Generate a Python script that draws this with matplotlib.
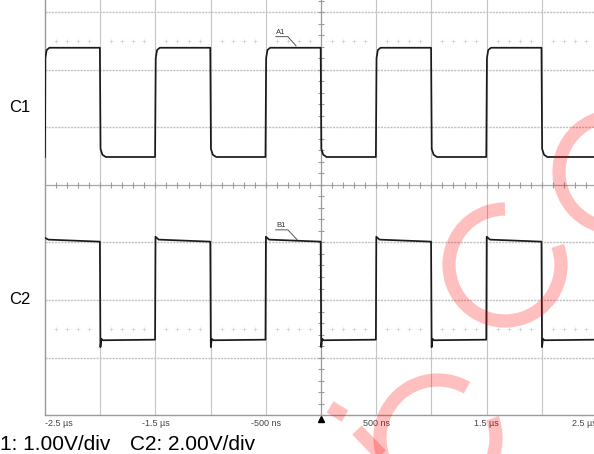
import matplotlib.pyplot as plt
import matplotlib.transforms as mtransforms
from matplotlib.patches import Arc
import numpy as np

# time in us, values in volts
c1_t = [-2.500, -2.497, -2.485, -2.460, -2.003, -1.997, -1.980, -1.950,
        -1.503, -1.497, -1.485, -1.460, -1.003, -0.997, -0.980, -0.950,
        -0.503, -0.497, -0.485, -0.460, -0.003, 0.003, 0.020, 0.050,
        0.497, 0.503, 0.515, 0.540, 0.997, 1.003, 1.020, 1.050,
        1.497, 1.503, 1.515, 1.540, 1.997, 2.003, 2.020, 2.050, 2.500]
c1_v = [0.00, 1.72, 1.86, 1.90, 1.90, 0.14, 0.04, 0.00,
        0.00, 1.72, 1.86, 1.90, 1.90, 0.14, 0.04, 0.00,
        0.00, 1.72, 1.86, 1.90, 1.90, 0.14, 0.04, 0.00,
        0.00, 1.72, 1.86, 1.90, 1.90, 0.14, 0.04, 0.00,
        0.00, 1.72, 1.86, 1.90, 1.90, 0.14, 0.04, 0.00, 0.00]

c2_t = [-2.500, -2.470, -2.003, -1.998, -1.990, -1.975,
        -1.503, -1.499, -1.470, -1.003, -0.998, -0.990, -0.975,
        -0.503, -0.499, -0.470, -0.003, 0.002, 0.010, 0.025,
        0.497, 0.501, 0.530, 0.997, 1.002, 1.010, 1.025,
        1.497, 1.501, 1.530, 1.997, 2.002, 2.010, 2.025, 2.500]
c2_v = [3.56, 3.50, 3.43, -0.24, 0.05, 0.00,
        0.02, 3.60, 3.50, 3.43, -0.24, 0.05, 0.00,
        0.02, 3.60, 3.50, 3.43, -0.24, 0.05, 0.00,
        0.02, 3.60, 3.50, 3.43, -0.24, 0.05, 0.00,
        0.02, 3.60, 3.50, 3.43, -0.24, 0.05, 0.00, 0.02]

c1_scale, c1_pos = 1.0, 0.487   # V/div, div
c2_scale, c2_pos = 2.0, -2.70

tick_pos = [-2.5, -1.5, -0.5, 0.5, 1.5, 2.5]
tick_labels = ["-2.5 µs", "-1.5 µs", "-500 ns", "500 ns", "1.5 µs", "2.5 µs"]

W, H = 594, 454
fig = plt.figure(figsize=(W / 100, H / 100), dpi=100)
ax = fig.add_axes([45 / W, 39 / H, 552 / W, 460 / H])
ax.set_xlim(-2.5, 2.5)
ax.set_ylim(-4, 4)
ax.set_xticks([])
ax.set_yticks([])
for s in ["top", "right"]:
    ax.spines[s].set_visible(False)
for s in ["left", "bottom"]:
    ax.spines[s].set_color("#9a9a9a")
    ax.spines[s].set_linewidth(1.0)

# graticule
for x in np.arange(-2.0, 2.51, 0.5):
    if abs(x) > 1e-9:
        ax.axvline(x, color="#c4c4c4", lw=0.8, zorder=1)
for y in [-3, -2, -1, 1, 2, 3]:
    ax.axhline(y, color="#c0c0c0", lw=1.0, ls=(0, (1.5, 0.8)), zorder=1)
ax.axvline(0, color="#9a9a9a", lw=0.9, zorder=1)
ax.axhline(0, color="#a8a8a8", lw=0.9, zorder=1)
minor_x = np.round(np.arange(-2.5, 2.51, 0.1), 3)
minor_y = np.round(np.arange(-4, 4.01, 0.2), 3)
ax.plot(minor_x, np.zeros_like(minor_x), ls="none", marker="|", ms=4,
        mew=0.8, color="#9a9a9a", zorder=1)
ax.plot(np.zeros_like(minor_y), minor_y, ls="none", marker="_", ms=4,
        mew=0.8, color="#9a9a9a", zorder=1)
dots_x = np.array([v for v in minor_x if abs(v * 2 - round(v * 2)) > 1e-6])
for yy in [2.5, -2.5]:
    ax.plot(dots_x, np.full_like(dots_x, yy), ls="none", marker="+", ms=2.5,
            mew=0.5, color="#cfcfcf", zorder=1)

# traces
ax.plot(c1_t, np.array(c1_v) / c1_scale + c1_pos, color="#1a1a1a", lw=1.25, zorder=3)
ax.plot(c2_t, np.array(c2_v) / c2_scale + c2_pos, color="#1a1a1a", lw=1.25, zorder=3)

# A1 / B1 markers
ax.text(-0.362, 2.66, "A1", fontsize=5.5, ha="center", va="center",
        family="Liberation Sans", color="#333")
ax.plot([-0.41, -0.30, -0.226], [2.58, 2.58, 2.42], color="#555", lw=0.7)
ax.text(-0.362, -0.70, "B1", fontsize=5.5, ha="center", va="center",
        family="Liberation Sans", color="#333")
ax.plot([-0.41, -0.30, -0.217], [-0.78, -0.78, -0.95], color="#555", lw=0.7)

# trigger marker
ax.plot([0], [-4.07], marker="^", ms=4, color="black", clip_on=False, zorder=4)

# time labels
tr = mtransforms.blended_transform_factory(ax.transData, fig.transFigure)
for i, (p, lab) in enumerate(zip(tick_pos, tick_labels)):
    ha = "left" if i == 0 else ("right" if i == len(tick_pos) - 1 else "center")
    ax.text(p, (H - 424) / H, lab, transform=tr, ha=ha, va="center",
            fontsize=6.5, family="Liberation Sans", color="#444", clip_on=False)

fig.text(20 / W, (H - 107) / H, "C1", fontsize=12, ha="center", va="center",
         family="Liberation Sans")
fig.text(20 / W, (H - 300) / H, "C2", fontsize=12, ha="center", va="center",
         family="Liberation Sans")
fig.text(-15 / W, (H - 449.5) / H, "C1: 1.00V/div", fontsize=15, ha="left",
         va="baseline", family="Liberation Sans")
fig.text(130 / W, (H - 449.5) / H, "C2: 2.00V/div", fontsize=15, ha="left",
         va="baseline", family="Liberation Sans")

# watermark
wm = dict(color="red", alpha=0.25, lw=9.5, transform=None, zorder=5)
for cx, cy, r, a1, a2 in [(505, 265, 56, 90, 380), (615, 172, 56, 100, 340),
                          (438, 438, 58, 60, 380)]:
    fig.patches.append(Arc((cx, H - cy), 2 * r, 2 * r, theta1=a1, theta2=a2, **wm))
for (x0, y0), (x1, y1) in [((330, 407), (345, 416)), ((357, 430), (382, 456))]:
    fig.lines.append(plt.Line2D([x0, x1], [H - y0, H - y1], color="red",
                                alpha=0.25, lw=9.5, transform=None,
                                solid_capstyle="butt", zorder=5))

fig.savefig("out.png", dpi=100)
